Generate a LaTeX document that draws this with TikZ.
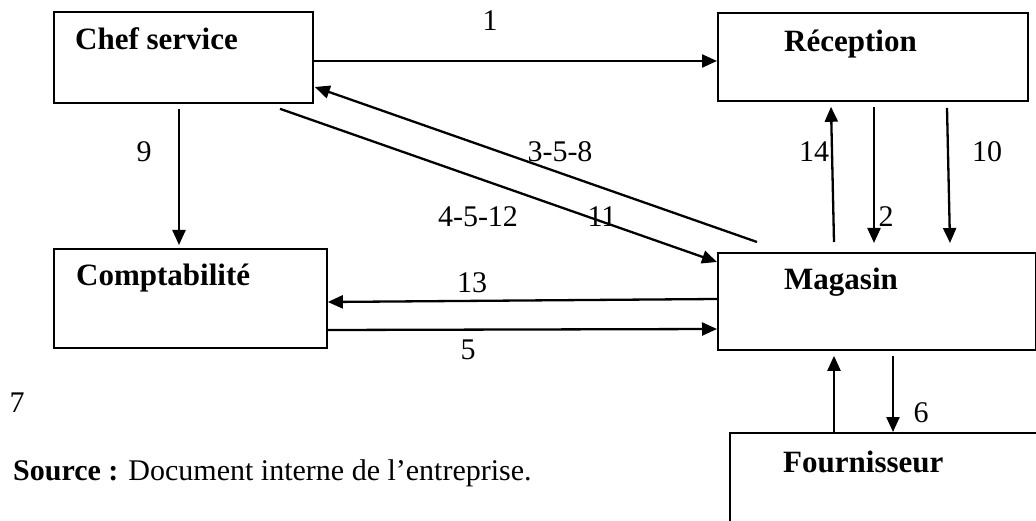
\documentclass[tikz,border=0pt]{standalone}
\usepackage{fontspec}
\setmainfont{Liberation Serif}
\usetikzlibrary{arrows.meta,calc}
\tikzset{
  box/.style={draw, line width=1.8pt, anchor=north west, inner sep=0pt},
  arr/.style={line width=2.3pt, -{Triangle[length=15pt,width=13pt]}},
  title/.style={anchor=base west, inner sep=0pt, font=\fontsize{31}{36}\selectfont\bfseries},
  num/.style={inner sep=0pt, font=\fontsize{30}{36}\selectfont},
}
\begin{document}
\begin{tikzpicture}[x=1pt,y=-1pt]
\useasboundingbox (0,0) rectangle (1036,521);
\clip (0,0) rectangle (1036,521);
% boxes
\node[box, minimum width=259pt, minimum height=91pt] (chef) at (53,11) {};
\node[box, minimum width=310pt, minimum height=88pt] (recep) at (717,12) {};
\node[box, minimum width=273pt, minimum height=99pt] (compta) at (53,248) {};
\node[box, minimum width=318pt, minimum height=97pt] (mag) at (717,252) {};
\node[box, minimum width=320pt, minimum height=130pt] (four) at (729,432) {};
% titles
\node[title] (tchef) at (75,50) {Chef service};
\node[title] (trecep) at (784,52) {Réception};
\node[title] (tcompta) at (76,286) {Comptabilité};
\node[title] (tmag) at (784,290) {Magasin};
\node[title] (tfour) at (783,472) {Fournisseur};
% connectors
\draw[arr] (chef.east |- 0,61) -- (recep.west |- 0,61);
\draw[arr] ([yshift=-5pt]chef.south -| 179,0) -- ([yshift=3pt]compta.north -| 179,0);
\draw[arr] ([yshift=10pt]mag.north -| 757,0) -- ([xshift=1pt]chef.east |- 0,87);
\draw[arr] ([yshift=-5pt]chef.south -| 280,0) -- (mag.west |- 0,262);
\draw[arr] ([yshift=10pt]mag.north -| 834,0) -- ([yshift=-5pt]recep.south -| 831,0);
\draw[arr] ([yshift=-5pt]recep.south -| 874,0) -- ([yshift=9pt]mag.north -| 874,0);
\draw[arr] ([yshift=-6pt]recep.south -| 947,0) -- ([yshift=9pt]mag.north -| 950,0);
\draw[arr] (mag.west |- 0,299) -- (compta.east |- 0,302);
\draw[arr] (compta.east |- 0,330) -- (mag.west |- 0,329);
\draw[arr] (four.north -| 834,0) -- ([yshift=-5pt]mag.south -| 834,0);
\draw[arr] ([yshift=-5pt]mag.south -| 893,0) -- (four.north -| 893,0);
% labels
\node[num] (l1) at (490,21) {1};
\node[num] (l9) at (144,152) {9};
\node[num] (l358) at (560,152) {3-5-8};
\node[num] (l4512) at (478,217) {4-5-12};
\node[num] (l11) at (602,217) {11};
\node[num] (l14) at (814,152) {14};
\node[num] (l2) at (886,217) {2};
\node[num] (l10) at (987,152) {10};
\node[num] (l13) at (472,283) {13};
\node[num] (l5) at (468,350) {5};
\node[num] (l7) at (17,403) {7};
\node[num] (l6) at (921,413) {6};
\node[num, anchor=base west] (src) at (13,480) {\textbf{Source :} Document interne de l’entreprise.};
\end{tikzpicture}
\end{document}
